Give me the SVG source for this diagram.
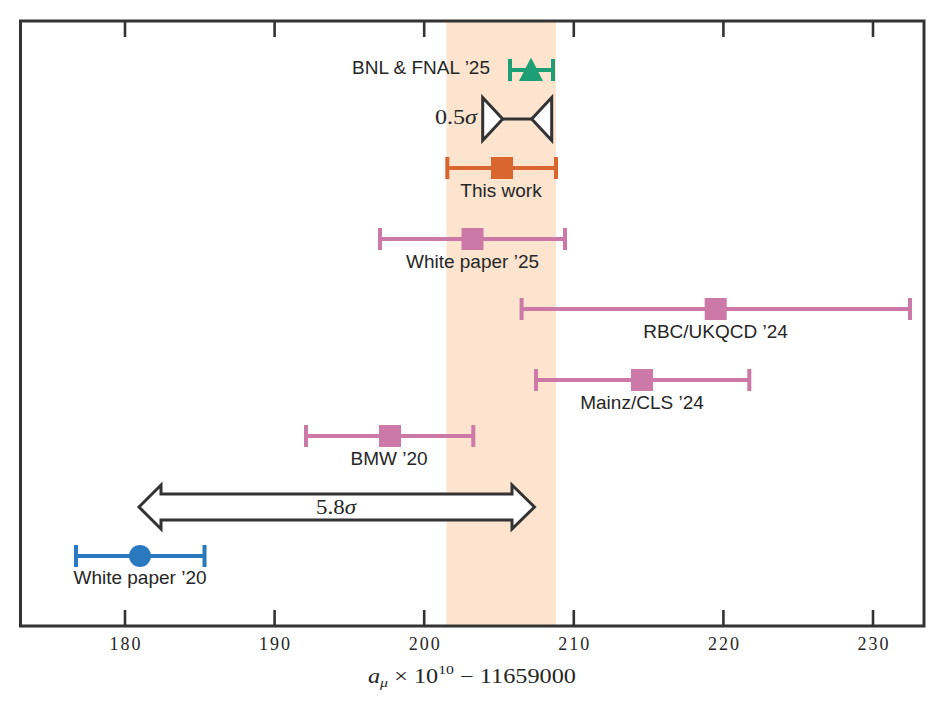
<svg xmlns="http://www.w3.org/2000/svg" width="945" height="709" viewBox="0 0 945 709">
<style>
.frame{fill:none;stroke:#333333;stroke-width:3}
.tick{stroke:#333333;stroke-width:2.6}
.tl{font-family:"Liberation Serif",serif;font-size:18px;fill:#262626;text-anchor:middle}
.lab{font-family:"Liberation Sans",Arial,sans-serif;font-size:19px;fill:#262626;text-anchor:middle}
.math{font-family:"Liberation Serif",serif;font-size:20px;fill:#262626}
.eb{stroke-width:4;fill:none}
.pink{stroke:#cc79a7}
.pinkf{fill:#cc79a7}
.outline{fill:#ffffff;stroke:#333333;stroke-width:3;stroke-linejoin:miter}
</style>
<rect width="945" height="709" fill="#ffffff"/>
<rect id="band" x="446.5" y="21" width="109.5" height="605" fill="#fde4ce"/>

<g id="connectors">
  <path id="sigma05" class="outline" d="M482.7,97.5 L482.7,140.5 L502.7,119 Z M551.7,97.5 L551.7,140.5 L531.7,119 Z"/>
  <line x1="502.7" y1="119" x2="531.7" y2="119" stroke="#333333" stroke-width="3"/>
  <path id="sigma58" class="outline" d="M139,507 L161,485 L161,494 L512,494 L512,485 L534.5,507 L512,529 L512,520 L161,520 L161,529 Z"/>
</g>

<g id="node-bnl">
  <path class="eb" stroke="#1d9e74" d="M510,70 H553 M510,59 V81 M553,59 V81"/>
  <polygon points="531,57.5 543,81 519,81" fill="#1d9e74"/>
  <text class="lab" x="490" y="74" style="text-anchor:end">BNL &amp; FNAL ’25</text>
</g>
<g id="node-05sigma">
  <text class="math" x="477" y="124" text-anchor="end" textLength="42" lengthAdjust="spacingAndGlyphs">0.5<tspan font-style="italic">σ</tspan></text>
</g>
<g id="node-thiswork">
  <path class="eb" stroke="#d9652f" d="M447.3,168 H556 M447.3,157 V179 M556,157 V179"/>
  <rect x="491" y="157" width="22" height="22" fill="#d9652f"/>
  <text class="lab" x="501" y="197">This work</text>
</g>
<g id="node-wp25">
  <path class="eb pink" d="M380,239 H565 M380,228 V250 M565,228 V250"/>
  <rect class="pinkf" x="461.5" y="228" width="22" height="22"/>
  <text class="lab" x="472.5" y="268">White paper ’25</text>
</g>
<g id="node-rbc">
  <path class="eb pink" d="M521.6,309 H910 M521.6,298 V320 M910,298 V320"/>
  <rect class="pinkf" x="704.7" y="298" width="22" height="22"/>
  <text class="lab" x="715.5" y="338">RBC/UKQCD ’24</text>
</g>
<g id="node-mainz">
  <path class="eb pink" d="M536,380 H749.3 M536,369 V391 M749.3,369 V391"/>
  <rect class="pinkf" x="631" y="369" width="22" height="22"/>
  <text class="lab" x="642" y="409">Mainz/CLS ’24</text>
</g>
<g id="node-bmw">
  <path class="eb pink" d="M306,436 H473.3 M306,425 V447 M473.3,425 V447"/>
  <rect class="pinkf" x="379" y="425" width="22" height="22"/>
  <text class="lab" x="389" y="465">BMW ’20</text>
</g>
<g id="node-58sigma">
  <text class="math" x="336" y="514" text-anchor="middle" textLength="40" lengthAdjust="spacingAndGlyphs">5.8<tspan font-style="italic">σ</tspan></text>
</g>
<g id="node-wp20">
  <path class="eb" stroke="#2a78bd" d="M76,556 H204.5 M76,545 V567 M204.5,545 V567"/>
  <circle cx="140" cy="556" r="11" fill="#2a78bd"/>
  <text class="lab" x="140" y="584">White paper ’20</text>
</g>

<g id="axes">
  <rect class="frame" x="20.5" y="21" width="903.5" height="605"/>
  <path class="tick" d="M125,21 V37 M274.6,21 V37 M424.2,21 V37 M573.8,21 V37 M723.4,21 V37 M873,21 V37 M125,626 V610 M274.6,626 V610 M424.2,626 V610 M573.8,626 V610 M723.4,626 V610 M873,626 V610"/>
  <text class="tl" x="125" y="650" textLength="31">180</text>
  <text class="tl" x="274.6" y="650" textLength="31">190</text>
  <text class="tl" x="424.2" y="650" textLength="31">200</text>
  <text class="tl" x="573.8" y="650" textLength="31">210</text>
  <text class="tl" x="723.4" y="650" textLength="31">220</text>
  <text class="tl" x="873" y="650" textLength="31">230</text>
  <text class="math" x="472" y="683" text-anchor="middle" textLength="208" lengthAdjust="spacingAndGlyphs"><tspan font-style="italic">a</tspan><tspan font-style="italic" font-size="13" dy="4">μ</tspan><tspan dy="-4"> × 10</tspan><tspan font-size="13" dy="-9">10</tspan><tspan dy="9"> − 11659000</tspan></text>
</g>
</svg>
